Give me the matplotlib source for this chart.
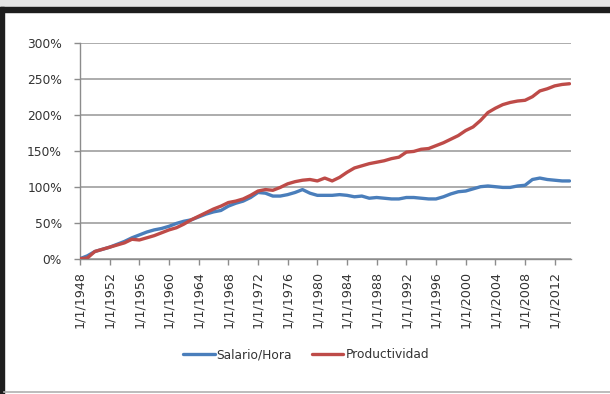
import matplotlib
matplotlib.use("Agg")
import matplotlib.pyplot as plt
from matplotlib.patches import Rectangle
from matplotlib.lines import Line2D
from matplotlib.ticker import FixedLocator

# --- DATA ---
years = list(range(1948, 2015))
salario_hora = [0, 4, 10, 13, 16, 20, 24, 29, 33, 37,
                40, 42, 45, 49, 52, 54, 58, 62, 65, 67,
                73, 77, 80, 85, 92, 91, 87, 87, 89, 92,
                96, 91, 88, 88, 88, 89, 88, 86, 87, 84,
                85, 84, 83, 83, 85, 85, 84, 83, 83, 86,
                90, 93, 94, 97, 100, 101, 100, 99, 99, 101,
                102, 110, 112, 110, 109, 108, 108]
productividad = [0, 1, 10, 13, 16, 19, 22, 27, 26, 29,
                 32, 36, 40, 43, 48, 54, 59, 64, 69, 73,
                 78, 80, 83, 88, 94, 96, 95, 99, 104, 107,
                 109, 110, 108, 112, 108, 113, 120, 126, 129, 132,
                 134, 136, 139, 141, 148, 149, 152, 153, 157, 161,
                 166, 171, 178, 183, 192, 203, 209, 214, 217, 219,
                 220, 225, 233, 236, 240, 242, 243]
tick_years = list(range(1948, 2013, 4))
tick_labels = [f"1/1/{y}" for y in tick_years]
y_ticks = [0, 50, 100, 150, 200, 250, 300]
y_labels = [f"{v}%" for v in y_ticks]

BLUE = "#4A7EBB"
RED = "#BE4B48"
GRID = "#A6A6A6"
TEXT = "#333333"

W, H = 610, 394
fig = plt.figure(figsize=(W / 100, H / 100), dpi=100)
fig.patch.set_facecolor("white")

# frame decorations like the screenshot
fig.patches.append(Rectangle((0, 1 - 7 / H), 1, 7 / H, transform=fig.transFigure,
                             color="#E6E6E6", zorder=0))
fig.patches.append(Rectangle((0, 1 - 12 / H), 1, 5 / H, transform=fig.transFigure,
                             color="#1E1E1E", zorder=1))
fig.patches.append(Rectangle((0, 0), 4 / W, 1 - 7 / H, transform=fig.transFigure,
                             color="#1E1E1E", zorder=1))
fig.lines.append(Line2D([4 / W, 1], [2.5 / H, 2.5 / H], transform=fig.transFigure,
                        color="#B0B0B0", lw=1.2))

left, right = 80 / W, 571 / W
bottom, top = 1 - 258.7 / H, 1 - 42.7 / H
ax = fig.add_axes([left, bottom, right - left, top - bottom])

ax.plot(years, salario_hora, color=BLUE, lw=2.4, solid_capstyle="round",
        label="Salario/Hora", zorder=3)
ax.plot(years, productividad, color=RED, lw=2.4, solid_capstyle="round",
        label="Productividad", zorder=3)

ax.set_xlim(1948, 2014.2)
ax.set_ylim(0, 300)

ax.xaxis.set_major_locator(FixedLocator(tick_years))
ax.set_xticklabels(tick_labels, rotation=90, fontsize=9.2, color=TEXT)
ax.set_yticks(y_ticks)
ax.set_yticklabels(y_labels, fontsize=8.8, color=TEXT)

ax.grid(axis="y", color=GRID, lw=1.3)
ax.set_axisbelow(True)
for s in ["top", "right"]:
    ax.spines[s].set_visible(False)
for s in ["left", "bottom"]:
    ax.spines[s].set_color("#8C8C8C")
    ax.spines[s].set_linewidth(1.0)
ax.tick_params(axis="both", direction="out", length=4, width=1.0, color="#8C8C8C")
ax.tick_params(axis="x", pad=5)
ax.tick_params(axis="y", pad=9)

fig.legend(loc="center", bbox_to_anchor=(306 / W, 1 - 355 / H), ncol=2,
           frameon=False, fontsize=8.8, handlelength=2.6, handletextpad=0.15,
           columnspacing=1.6, labelcolor=TEXT)

fig.savefig("out.png", dpi=100)
